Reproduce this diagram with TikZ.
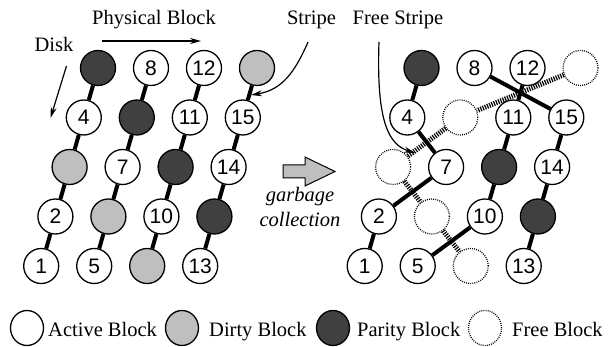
\documentclass[tikz,border=0pt]{standalone}
\usepackage{fontspec}
\setmainfont{Liberation Serif}
\newfontfamily\numfont{Liberation Sans}
\usetikzlibrary{arrows.meta,shapes.geometric}
\definecolor{dirtygray}{HTML}{BFBFBF}
\definecolor{paritygray}{HTML}{404040}
\begin{document}
\begin{tikzpicture}[x=1pt,y=-1pt,
  blk/.style={circle,draw,line width=1.3pt,minimum size=35pt,inner sep=0pt,
    font=\numfont\fontsize{21}{21}\selectfont},
  blkact/.style={blk,fill=white},
  blkdirty/.style={blk,fill=dirtygray},
  blkpar/.style={blk,fill=paritygray},
  blkfree/.style={blk,fill=white,dash pattern=on 0.9pt off 1.2pt},
  legshape/.style={ellipse,draw,line width=1.3pt,minimum width=33pt,minimum height=35pt,inner sep=0pt},
  conn/.style={line width=4pt},
  freeconn/.style={line width=5pt,dash pattern=on 1.2pt off 1.2pt},
  lbl/.style={font=\fontsize{20.5}{24}\selectfont,inner sep=0pt},
  ptr/.style={line width=1.2pt,-{Stealth[length=11pt,width=6pt]}},
]
\useasboundingbox (0,0) rectangle (610,347);

% ---------- disk array before garbage collection ----------
\foreach \r/\c/\kind/\num in {
  0/0/blkpar/, 0/1/blkact/8, 0/2/blkact/12, 0/3/blkdirty/,
  1/0/blkact/4, 1/1/blkpar/, 1/2/blkact/11, 1/3/blkact/15,
  2/0/blkdirty/, 2/1/blkact/7, 2/2/blkpar/, 2/3/blkact/14,
  3/0/blkact/2, 3/1/blkdirty/, 3/2/blkact/10, 3/3/blkpar/,
  4/0/blkact/1, 4/1/blkact/5, 4/2/blkdirty/, 4/3/blkact/13}
  \node[\kind] (L\r\c) at ({98-14.2*\r+53*\c},{68+49.5*\r}) {\num};

% each disk column is joined from top to bottom
\foreach \c in {0,1,2,3} {
  \draw[conn] (L0\c) -- (L1\c);
  \draw[conn] (L1\c) -- (L2\c);
  \draw[conn] (L2\c) -- (L3\c);
  \draw[conn] (L3\c) -- (L4\c);
}

% ---------- disk array after garbage collection ----------
\foreach \r/\c/\kind/\num in {
  0/0/blkpar/, 0/1/blkact/8, 0/2/blkact/12, 0/3/blkfree/,
  1/0/blkact/4, 1/1/blkfree/, 1/2/blkact/11, 1/3/blkact/15,
  2/0/blkfree/, 2/1/blkact/7, 2/2/blkpar/, 2/3/blkact/14,
  3/0/blkact/2, 3/1/blkfree/, 3/2/blkact/10, 3/3/blkpar/,
  4/0/blkact/1, 4/1/blkact/5, 4/2/blkfree/, 4/3/blkact/13}
  \node[\kind] (R\r\c) at ({421.5-14.2*\r+53*\c},{68+49.5*\r}) {\num};

% free stripe
\draw[freeconn] (R03) -- (R11);
\draw[freeconn] (R11) -- (R20);
\draw[freeconn] (R20) -- (R31);
\draw[freeconn] (R31) -- (R42);

% rebuilt stripes
\draw[conn] (R00) -- (R10);
\draw[conn] (R10) -- (R21);
\draw[conn] (R21) -- (R30);
\draw[conn] (R30) -- (R40);
\draw[conn] (R01) -- (R13);
\draw[conn] (R13) -- (R23);
\draw[conn] (R23) -- (R33);
\draw[conn] (R33) -- (R43);
\draw[conn] (R02) -- (R12);
\draw[conn] (R12) -- (R22);
\draw[conn] (R22) -- (R32);
\draw[conn] (R32) -- (R41);

% ---------- labels and pointers ----------
\node[lbl,anchor=base] (phys) at (154,25) {Physical Block};
\coordinate (physA) at (101.5,41);
\coordinate (physB) at (201,41);
\draw[ptr] (physA) -- (physB);

\node[lbl,anchor=base] (disk) at (54,52) {Disk};
\coordinate (diskA) at (66.5,66);
\coordinate (diskB) at (50.5,118);
\draw[ptr] (diskA) -- (diskB);

\node[lbl,anchor=base] (stripe) at (311.5,25) {Stripe};
\coordinate (stripeA) at (308,42);
\coordinate (stripeB) at (251,95);
\draw[ptr] (stripeA) .. controls (295,72) and (282,90) .. (stripeB);

\node[lbl,anchor=base] (fstripe) at (398,25) {Free Stripe};
\coordinate (fstripeA) at (379,42);
\coordinate (fstripeB) at (415,153);
\draw[ptr] (fstripeA) .. controls (376,125) and (390,145) .. (fstripeB);

% garbage collection step
\draw[fill=dirtygray,line width=1pt]
  (283,165) -- (305,165) -- (305,157) -- (335,171.5) -- (305,186) -- (305,178) -- (283,178) -- cycle;
\node[lbl,anchor=base,font=\fontsize{20.5}{24}\selectfont\itshape] (gc1) at (300,202) {garbage};
\node[lbl,anchor=base,font=\fontsize{20.5}{24}\selectfont\itshape] (gc2) at (300,227) {collection};

% ---------- legend ----------
\node[legshape,fill=white] (kact) at (27,328) {};
\node[lbl,anchor=base west] (tact) at (48,336) {Active Block};
\node[legshape,fill=dirtygray] (kdirty) at (182,328) {};
\node[lbl,anchor=base west] (tdirty) at (209,336) {Dirty Block};
\node[legshape,fill=paritygray] (kpar) at (333,328) {};
\node[lbl,anchor=base west] (tpar) at (357,336) {Parity Block};
\node[legshape,fill=white,dash pattern=on 0.9pt off 1.2pt] (kfree) at (485,328) {};
\node[lbl,anchor=base west] (tfree) at (512,336) {Free Block};
\end{tikzpicture}
\end{document}
